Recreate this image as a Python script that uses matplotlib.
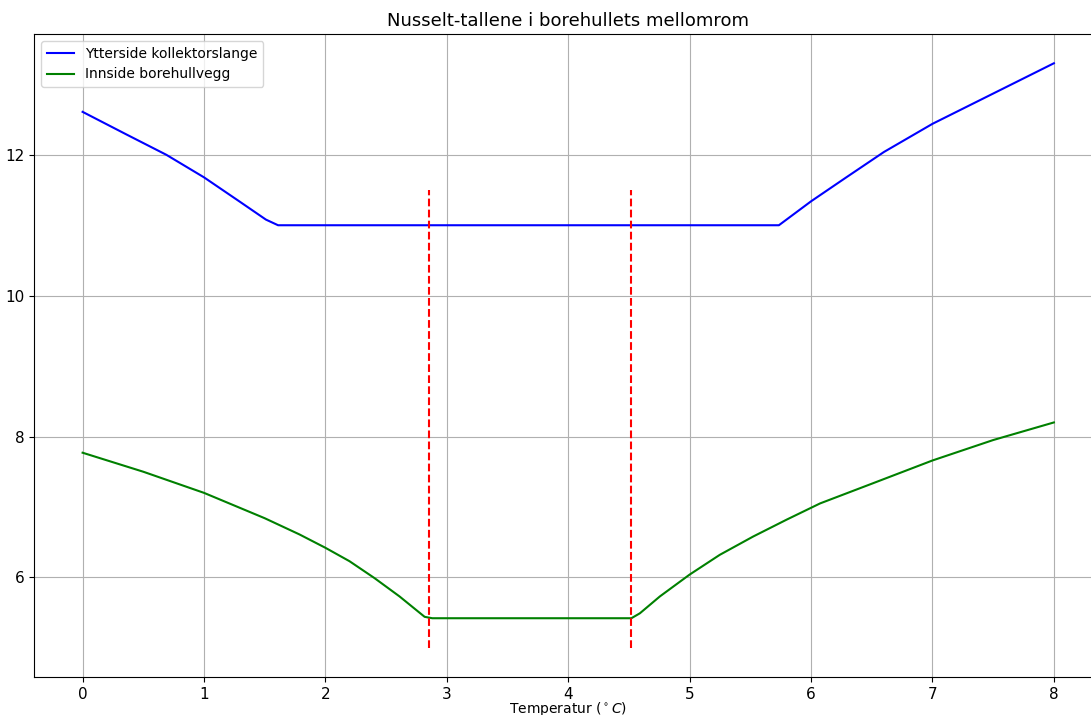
import matplotlib
matplotlib.use("Agg")
import matplotlib.pyplot as plt

# Ytterside kollektorslange (blue)
x_ytter = [0, 0.36, 0.69, 1.0, 1.29, 1.51, 1.61, 5.735, 6.0, 6.29, 6.6, 7.0, 7.5, 8.0]
nu_ytter = [12.61, 12.29, 12.0, 11.68, 11.34, 11.08, 11.0, 11.0, 11.34, 11.68, 12.04, 12.44, 12.87, 13.30]

# Innside borehullvegg (green)
x_innside = [0, 0.5, 1.0, 1.5, 1.786, 2.0, 2.198, 2.404, 2.61, 2.817, 2.88,
             4.52, 4.59, 4.755, 5.0, 5.248, 5.523, 5.799, 6.074, 6.5, 7.0, 7.5, 8.0]
nu_innside = [7.77, 7.50, 7.20, 6.84, 6.61, 6.42, 6.23, 5.99, 5.73, 5.44, 5.42,
              5.42, 5.49, 5.73, 6.04, 6.32, 6.58, 6.82, 7.05, 7.33, 7.66, 7.95, 8.20]

# grenser (red dashed)
grenser = [2.85, 4.515]
grense_ymin, grense_ymax = 5.0, 11.5

fig = plt.figure(figsize=(10.91, 7.15), dpi=100)
ax = fig.add_axes([0.0312, 0.0531, 0.9793, 0.8993])

ax.plot(x_ytter, nu_ytter, color='blue', label='Ytterside kollektorslange')
ax.plot(x_innside, nu_innside, color='green', label='Innside borehullvegg')
ax.vlines(grenser, grense_ymin, grense_ymax, colors='red', linestyles='dashed')

ax.set_title('Nusselt-tallene i borehullets mellomrom', fontsize=13)
ax.set_xlabel(r'Temperatur ($^\circ C$)', fontsize=10, labelpad=-1)
ax.tick_params(labelsize=11)
ax.grid(True)
ax.legend(loc='upper left', fontsize=10)

fig.savefig('out.png', dpi=100)
